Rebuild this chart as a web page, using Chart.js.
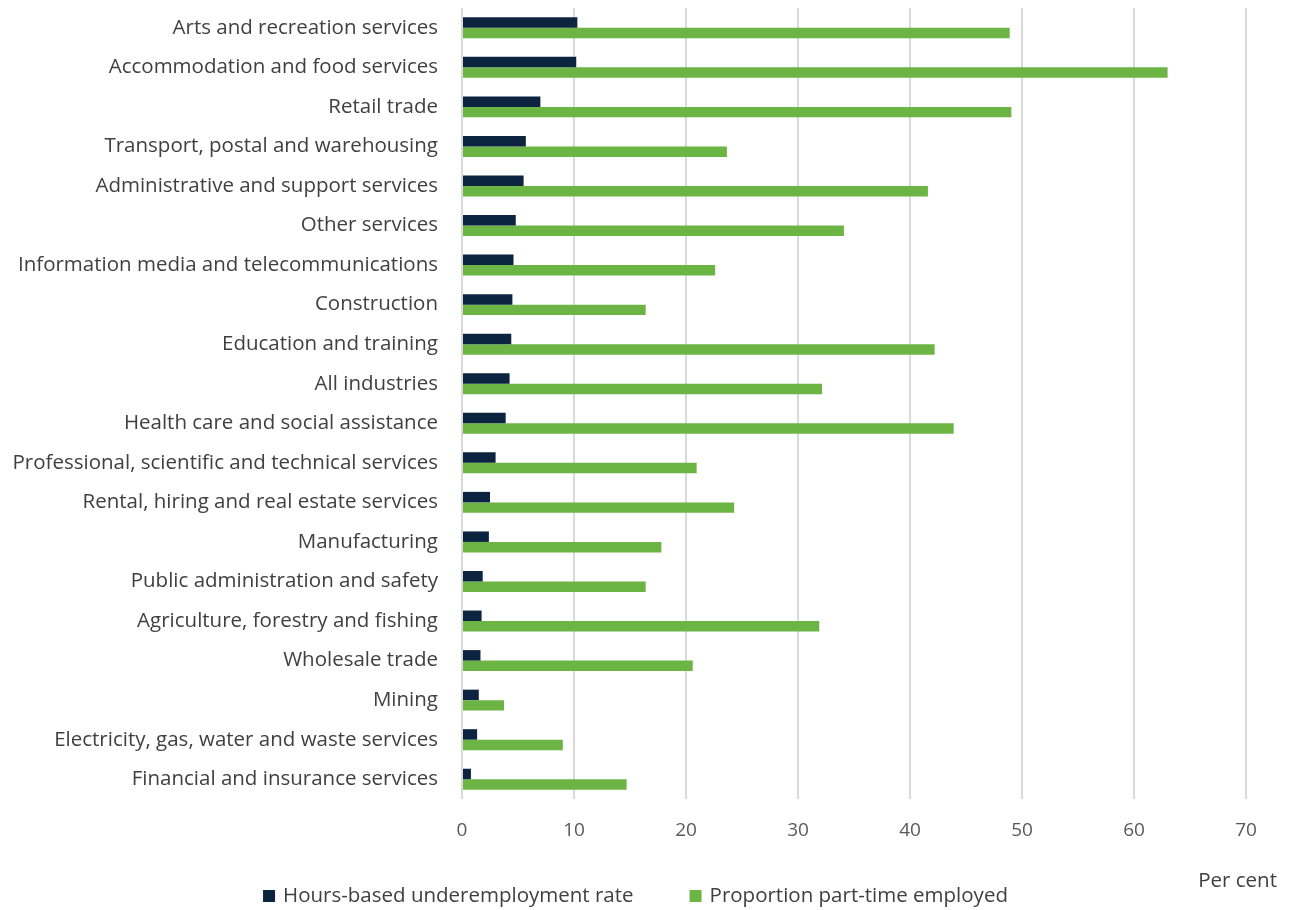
<!DOCTYPE html>
<html>
<head>
<meta charset="utf-8">
<script src="https://cdn.jsdelivr.net/npm/chart.js@4"></script>
<style>
  html, body { margin: 0; padding: 0; background: #fff; }
  #wrap { width: 1291px; height: 910px; }
</style>
</head>
<body>
<div id="wrap"><canvas id="chart" width="1291" height="910"></canvas></div>
<script>
// Industries, top to bottom
const industries = [
    'Arts and recreation services',
    'Accommodation and food services',
    'Retail trade',
    'Transport, postal and warehousing',
    'Administrative and support services',
    'Other services',
    'Information media and telecommunications',
    'Construction',
    'Education and training',
    'All industries',
    'Health care and social assistance',
    'Professional, scientific and technical services',
    'Rental, hiring and real estate services',
    'Manufacturing',
    'Public administration and safety',
    'Agriculture, forestry and fishing',
    'Wholesale trade',
    'Mining',
    'Electricity, gas, water and waste services',
    'Financial and insurance services'
];

const underemploymentRate = [10.3, 10.2, 7.0, 5.7, 5.5, 4.8, 4.6, 4.5, 4.4, 4.25, 3.9, 3.0, 2.5, 2.4, 1.85, 1.75, 1.65, 1.5, 1.35, 0.8];
const partTimeShare = [48.9, 63.0, 49.05, 23.65, 41.6, 34.1, 22.6, 16.4, 42.2, 32.15, 43.9, 20.95, 24.3, 17.8, 16.4, 31.9, 20.6, 3.75, 9.0, 14.7];

const xTicks = [0, 10, 20, 30, 40, 50, 60, 70];

const seriesNames = ['Hours-based underemployment rate', 'Proportion part-time employed'];
const axisUnit = 'Per cent';

const NAVY = '#0d2440';
const GREEN = '#6cb544';
const FONT = "'Open Sans', 'Noto Sans', sans-serif";

// legend + "Per cent" drawn by hand so the spacing matches the original
const bottomText = {
    id: 'bottomText',
    afterDraw(chart) {
        const ctx = chart.ctx;
        ctx.save();
        ctx.textBaseline = 'middle';

        // unit label, right side
        ctx.font = '20.5px ' + FONT;
        ctx.fillStyle = '#404040';
        ctx.textAlign = 'right';
        ctx.fillText(axisUnit, chart.width - 14, chart.height - 29);

        // legend
        ctx.font = '20.5px ' + FONT;
        ctx.textAlign = 'left';
        const box = 12, boxGap = 8, itemGap = 56;
        const widths = chart.data.datasets.map(ds => box + boxGap + ctx.measureText(ds.label).width);
        const total = widths.reduce((a, b) => a + b, 0) + itemGap * (widths.length - 1);
        let x = chart.width / 2 - 10 - total / 2;
        const y = chart.height - 14;
        chart.data.datasets.forEach((ds, i) => {
            ctx.fillStyle = ds.backgroundColor;
            ctx.fillRect(x, y - box / 2, box, box);
            ctx.fillStyle = '#404040';
            ctx.fillText(ds.label, x + box + boxGap, y);
            x += widths[i] + itemGap;
        });
        ctx.restore();
    }
};

new Chart(document.getElementById('chart'), {
    type: 'bar',
    data: {
        labels: industries,
        datasets: [
            { label: seriesNames[0], data: underemploymentRate, backgroundColor: NAVY, borderWidth: 0 },
            { label: seriesNames[1], data: partTimeShare, backgroundColor: GREEN, borderWidth: 0 }
        ]
    },
    options: {
        indexAxis: 'y',
        responsive: false,
        animation: false,
        layout: { padding: { top: 8, right: 45, left: 0, bottom: 51 } },
        datasets: { bar: { barPercentage: 1.0, categoryPercentage: 0.53 } },
        plugins: {
            legend: { display: false },
            tooltip: { enabled: false }
        },
        scales: {
            x: {
                min: 0,
                max: 70,
                afterBuildTicks(scale) {
                    scale.ticks = xTicks.map(v => ({ value: v }));
                },
                afterFit(scale) { scale.height = 60; },
                grid: { color: '#d9d9d9', lineWidth: 2, drawTicks: false },
                border: { display: false },
                ticks: { padding: 20, color: '#595959', font: { family: FONT, size: 19 } }
            },
            y: {
                afterFit(scale) {
                    scale.width = 462;
                    scale.paddingTop = 0;
                    scale.paddingBottom = 0;
                },
                grid: { display: false, drawTicks: false },
                border: { display: false },
                ticks: { padding: 24, color: '#404040', font: { family: FONT, size: 20.5 } }
            }
        }
    },
    plugins: [bottomText]
});
</script>
</body>
</html>
